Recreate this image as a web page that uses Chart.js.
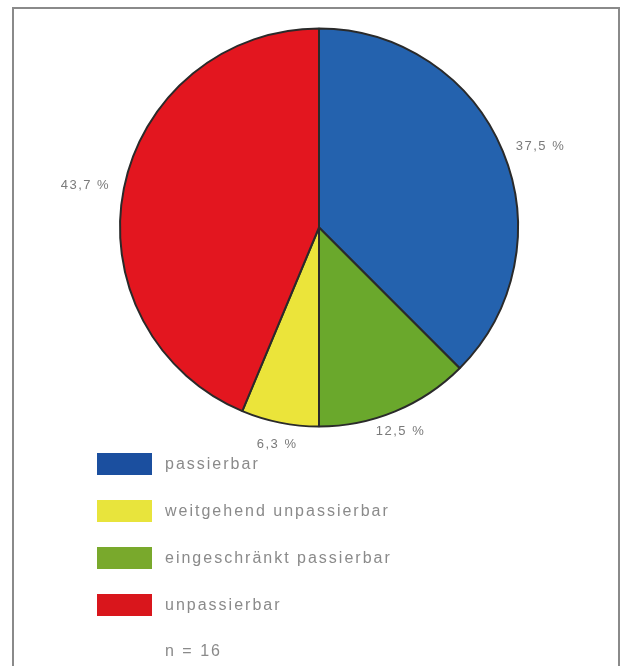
<!DOCTYPE html>
<html>
<head>
<meta charset="utf-8">
<script src="https://cdn.jsdelivr.net/npm/chart.js@4"></script>
<style>
  html, body { margin: 0; padding: 0; background: #fff; }
  #frame { position: absolute; left: 12px; top: 7px; width: 604px; height: 700px; border: 2px solid #8a8a8a; }
  #wrap { position: absolute; left: 0; top: 0; width: 624px; height: 666px; }
</style>
</head>
<body>
<div id="frame"></div>
<div id="wrap"><canvas id="myChart" width="624" height="666"></canvas></div>
<script>
// slices in drawing order (clockwise from top)
let sliceLabels = ['passierbar', 'eingeschränkt passierbar', 'weitgehend unpassierbar', 'unpassierbar'];
let sliceValues = [37.5, 12.5, 6.3, 43.7];
let sliceTexts = ['37,5 %', '12,5 %', '6,3 %', '43,7 %'];
let sliceColors = ['#2462ae', '#6aa82c', '#ebe43a', '#e3161f'];

// legend order as in the picture
let legendLabels = ['passierbar', 'weitgehend unpassierbar', 'eingeschränkt passierbar', 'unpassierbar'];
let legendColors = ['#1b4f9f', '#e8e43c', '#79a92c', '#d9161c'];
let noteText = 'n = 16';

let labelPlugin = {
    id: 'labelPlugin',
    afterDraw(chart) {
        let c = chart.ctx;
        let meta = chart.getDatasetMeta(0);
        c.save();
        c.fillStyle = '#7a7a7a';
        c.font = '13px "Liberation Sans", Arial, sans-serif';
        c.letterSpacing = '1.5px';
        c.textBaseline = 'middle';
        meta.data.forEach((arc, i) => {
            let p = arc.getProps(['x', 'y', 'startAngle', 'endAngle', 'outerRadius'], true);
            let mid = (p.startAngle + p.endAngle) / 2;
            let r = p.outerRadius + 14;
            let cx = Math.cos(mid), cy = Math.sin(mid);
            let tx = p.x + cx * r, ty = p.y + cy * r;
            // anchor text by its edge nearest the pie
            if (Math.abs(cx) > 0.5) {
                c.textAlign = cx > 0 ? 'left' : 'right';
            } else {
                c.textAlign = 'center';
                ty += cy * 8;
            }
            c.fillText(sliceTexts[i], tx, ty);
        });

        // legend
        c.textAlign = 'left';
        c.font = '16px "Liberation Sans", Arial, sans-serif';
        c.letterSpacing = '2px';
        legendLabels.forEach((lab, i) => {
            let y = 464 + i * 47;
            c.fillStyle = legendColors[i];
            c.fillRect(97, y - 11, 55, 22);
            c.fillStyle = '#8a8a8a';
            c.fillText(lab, 165, y + 1);
        });
        c.fillText(noteText, 165, 464 + 4 * 47);
        c.restore();
    }
};

let ctx = document.getElementById('myChart').getContext('2d');
let myChart = new Chart(ctx, {
    type: 'pie',
    data: {
        labels: sliceLabels,
        datasets: [{
            data: sliceValues,
            backgroundColor: sliceColors,
            borderColor: '#2a2a2a',
            borderWidth: 2
        }]
    },
    options: {
        responsive: false,
        animation: false,
        layout: { padding: { top: 27, bottom: 238, left: 119, right: 105 } },
        plugins: {
            legend: { display: false },
            tooltip: { enabled: false }
        }
    },
    plugins: [labelPlugin]
});
</script>
</body>
</html>
